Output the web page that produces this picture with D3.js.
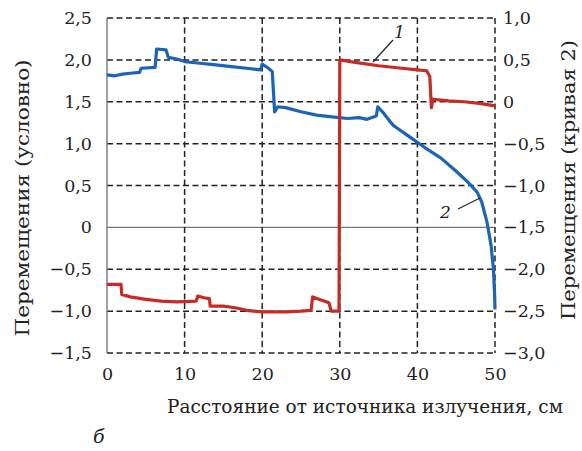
<!DOCTYPE html>
<html>
<head>
<meta charset="utf-8">
<script src="https://cdnjs.cloudflare.com/ajax/libs/d3/7.8.5/d3.min.js"></script>
<style>
  body { margin: 0; background: #fff; }
  svg text { font-family: "DejaVu Serif", "Liberation Serif", serif; fill: #222; }
</style>
</head>
<body>
<svg width="582" height="451"></svg>
<script>
// ---- data ----
let xTicks = [0, 10, 20, 30, 40, 50];
let leftTicks = [2.5, 2.0, 1.5, 1.0, 0.5, 0, -0.5, -1.0, -1.5];
let rightTicks = [1.0, 0.5, 0, -0.5, -1.0, -1.5, -2.0, -2.5, -3.0];

// curve 1 (left axis, "условно")
let curve1X = [0, 1.8, 1.9, 3, 5, 7, 9, 11.5, 11.7, 12.5, 13.2, 13.3, 15, 16.5, 18, 20, 23, 25, 26.3, 26.5, 28.6, 28.9, 29.9,
    30, 32, 35, 38, 40, 41.2, 41.6, 41.8, 42, 44, 46, 48, 50];
let curve1Y = [-0.68, -0.68, -0.80, -0.83, -0.86, -0.88, -0.89, -0.88, -0.82, -0.84, -0.85, -0.94, -0.94, -0.96, -0.99, -1.01, -1.01, -1.0, -0.99, -0.83, -0.9, -1.0, -1.0,
    2.0, 1.97, 1.93, 1.9, 1.88, 1.87, 1.80, 1.43, 1.53, 1.51, 1.50, 1.48, 1.45];

// curve 2 (right axis, "кривая 2")
let curve2X = [0, 1, 2, 3, 4.2, 4.4, 6.2, 6.4, 7.6, 7.9, 9, 10, 12, 14, 16, 18, 19.8, 20, 20.8, 21.3, 21.6, 22, 23, 25, 27, 29, 31, 32.5, 33.5, 34.7, 34.9, 35.5, 36.5, 37,
    39, 41, 43, 45, 46.5, 47.7, 48.3, 49, 49.5, 49.8, 49.95, 50];
let curve2Y = [0.32, 0.31, 0.33, 0.34, 0.35, 0.40, 0.41, 0.63, 0.62, 0.53, 0.51, 0.48, 0.46, 0.44, 0.42, 0.40, 0.38, 0.45, 0.40, 0.36, -0.12, -0.06, -0.07, -0.12, -0.16, -0.18, -0.20, -0.19, -0.21, -0.17, -0.06, -0.12, -0.24, -0.29,
    -0.42, -0.55, -0.67, -0.83, -0.96, -1.08, -1.2, -1.45, -1.72, -2.0, -2.3, -2.48];

let svg = d3.select("svg");
let pLeft = 107, pRight = 495, pTop = 18, pBottom = 353;

let x = d3.scaleLinear().domain([0, 50]).range([pLeft, pRight]);
let yL = d3.scaleLinear().domain([-1.5, 2.5]).range([pBottom, pTop]);
let yR = d3.scaleLinear().domain([-3, 1]).range([pBottom, pTop]);

let fmt = function (d) {
    if (d === 0) return "0";
    return (d < 0 ? "\u2212" : "") + Math.abs(d).toFixed(1).replace(".", ",");
};

let dash = "6,3.5";

// horizontal grid
svg.append("g").selectAll("line")
    .data(leftTicks)
    .enter().append("line")
    .attr("x1", pLeft).attr("x2", pRight)
    .attr("y1", d => yL(d)).attr("y2", d => yL(d))
    .attr("stroke", d => d === 0 ? "#777" : "#222")
    .attr("stroke-width", d => d === 0 ? 1.4 : 1.5)
    .attr("stroke-dasharray", d => d === 0 ? null : dash);

// vertical grid
svg.append("g").selectAll("line")
    .data(xTicks)
    .enter().append("line")
    .attr("x1", d => x(d)).attr("x2", d => x(d))
    .attr("y1", pTop).attr("y2", pBottom)
    .attr("stroke", d => d === 0 ? "#777" : "#222")
    .attr("stroke-width", d => d === 0 ? 1.4 : 1.5)
    .attr("stroke-dasharray", d => d === 0 ? null : dash);

// axes labels
let gl = svg.append("g")
    .attr("transform", "translate(" + (pLeft - 15) + ",0)")
    .call(d3.axisLeft(yL).tickValues(leftTicks).tickFormat(fmt).tickSize(0));
let gr = svg.append("g")
    .attr("transform", "translate(" + (pRight + 8) + ",0)")
    .call(d3.axisRight(yR).tickValues(rightTicks).tickFormat(fmt).tickSize(0));
let gx = svg.append("g")
    .attr("transform", "translate(0," + (pBottom + 12) + ")")
    .call(d3.axisBottom(x).tickValues(xTicks).tickFormat(d3.format("d")).tickSize(0));

[gl, gr, gx].forEach(function (g) {
    g.select(".domain").remove();
    g.selectAll("text")
        .style("font-family", "DejaVu Serif")
        .style("font-size", "17.5px")
        .attr("fill", "#222");
});
gl.selectAll("text").attr("x", 0);
gr.selectAll("text").attr("x", 0);

// curves
let line = function (ys, yScale) {
    return d3.line()
        .x(d => x(d))
        .y((d, i) => yScale(ys[i]));
};

svg.append("path")
    .attr("d", line(curve2Y, yR)(curve2X))
    .attr("fill", "none")
    .attr("stroke", "#1e64b4")
    .attr("stroke-width", 3.2)
    .attr("stroke-linejoin", "round");

svg.append("path")
    .attr("d", line(curve1Y, yL)(curve1X))
    .attr("fill", "none")
    .attr("stroke", "#c62b25")
    .attr("stroke-width", 3.2)
    .attr("stroke-linejoin", "round");

// leaders + curve numbers
svg.append("line")
    .attr("x1", 393).attr("y1", 40).attr("x2", 373).attr("y2", 62)
    .attr("stroke", "#222").attr("stroke-width", 1.2);
svg.append("text")
    .attr("x", 394).attr("y", 38)
    .style("font-size", "17px").style("font-style", "italic")
    .text("1");

svg.append("line")
    .attr("x1", 458).attr("y1", 209).attr("x2", 480).attr("y2", 198)
    .attr("stroke", "#222").attr("stroke-width", 1.2);
svg.append("text")
    .attr("x", 440).attr("y", 218)
    .style("font-size", "17px").style("font-style", "italic")
    .text("2");

// titles
svg.append("text")
    .attr("transform", "translate(29,198) rotate(-90)")
    .attr("text-anchor", "middle")
    .attr("textLength", 277).attr("lengthAdjust", "spacingAndGlyphs")
    .style("font-size", "18px")
    .text("Перемещения (условно)");

svg.append("text")
    .attr("transform", "translate(575,180) rotate(-90)")
    .attr("text-anchor", "middle")
    .attr("textLength", 280).attr("lengthAdjust", "spacingAndGlyphs")
    .style("font-size", "18px")
    .text("Перемещения (кривая 2)");

svg.append("text")
    .attr("x", 365).attr("y", 413)
    .attr("text-anchor", "middle")
    .attr("textLength", 396).attr("lengthAdjust", "spacingAndGlyphs")
    .style("font-size", "18px")
    .text("Расстояние от источника излучения, см");

svg.append("text")
    .attr("x", 93).attr("y", 443)
    .style("font-size", "19px").style("font-style", "italic")
    .text("б");
</script>
</body>
</html>
